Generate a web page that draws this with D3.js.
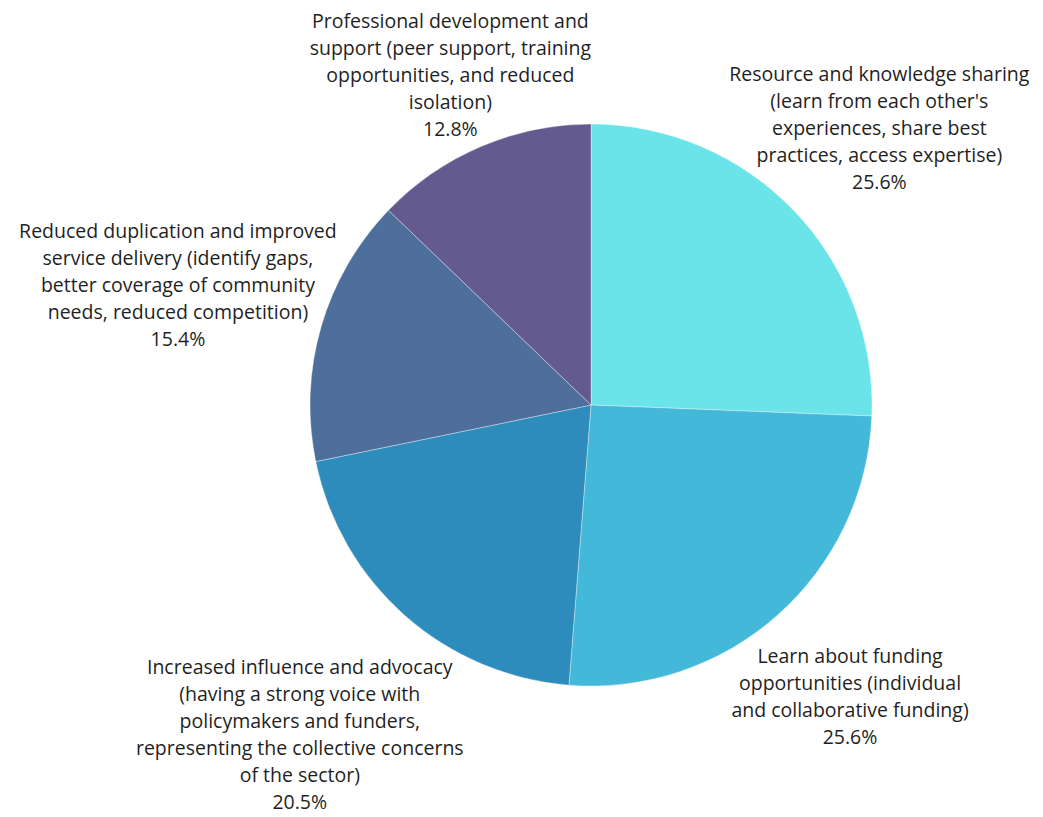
<!DOCTYPE html>
<html>
<head>
<meta charset="utf-8">
<script src="https://cdn.jsdelivr.net/npm/d3@7"></script>
<style>
  html, body { margin: 0; padding: 0; background: #ffffff; }
  svg { display: block; }
</style>
</head>
<body>
<svg id="chart" width="1043" height="817"></svg>
<script>
// Survey: perceived benefits of collaboration (share of responses)
const categories = [
  "Resource and knowledge sharing (learn from each other's experiences, share best practices, access expertise)",
  "Learn about funding opportunities (individual and collaborative funding)",
  "Increased influence and advocacy (having a strong voice with policymakers and funders, representing the collective concerns of the sector)",
  "Reduced duplication and improved service delivery (identify gaps, better coverage of community needs, reduced competition)",
  "Professional development and support (peer support, training opportunities, and reduced isolation)"
];
const values = [25.6, 25.6, 20.5, 15.4, 12.8];
const valueLabels = ["25.6%", "25.6%", "20.5%", "15.4%", "12.8%"];

// Wrapped label lines as they appear beside each slice
const labelLines = [
  ["Resource and knowledge sharing", "(learn from each other's", "experiences, share best", "practices, access expertise)"],
  ["Learn about funding", "opportunities (individual", "and collaborative funding)"],
  ["Increased influence and advocacy", "(having a strong voice with", "policymakers and funders,", "representing the collective concerns", "of the sector)"],
  ["Reduced duplication and improved", "service delivery (identify gaps,", "better coverage of community", "needs, reduced competition)"],
  ["Professional development and", "support (peer support, training", "opportunities, and reduced", "isolation)"]
];
const colors = ["#6ae4e8", "#44b8d8", "#2e8cbd", "#4e6f9b", "#635a8f"];

// Layout
const cx = 591, cy = 405, radius = 281;
const labelDistance = [400, 390, 440, 430, 359];
const lineHeight = 27;

const svg = d3.select("#chart");
const g = svg.append("g").attr("transform", `translate(${cx},${cy})`);

const pie = d3.pie().sort(null).value(d => d)(values);
const arc = d3.arc().innerRadius(0).outerRadius(radius);

g.selectAll("path.slice")
  .data(pie)
  .join("path")
  .attr("class", "slice")
  .attr("d", arc)
  .attr("fill", (d, i) => colors[i])
  .attr("stroke", "rgba(255,255,255,0.35)")
  .attr("stroke-width", 1);

// Data labels placed along each slice's mid-angle
g.selectAll("text.label")
  .data(pie)
  .join("text")
  .attr("class", "label")
  .attr("text-anchor", "middle")
  .attr("font-family", "'Open Sans', sans-serif")
  .attr("font-size", 19.5)
  .attr("fill", "#1f1f1f")
  .each(function (d, i) {
    const mid = (d.startAngle + d.endAngle) / 2;
    const dist = labelDistance[i];
    const x = Math.sin(mid) * dist;
    const y = -Math.cos(mid) * dist;
    const lines = labelLines[i].concat([valueLabels[i]]);
    const y0 = y - (lines.length - 1) * lineHeight / 2;
    const t = d3.select(this);
    lines.forEach((ln, k) => {
      t.append("tspan")
        .attr("x", x)
        .attr("y", y0 + k * lineHeight)
        .attr("dy", "0.35em")
        .text(ln);
    });
  });
</script>
</body>
</html>
